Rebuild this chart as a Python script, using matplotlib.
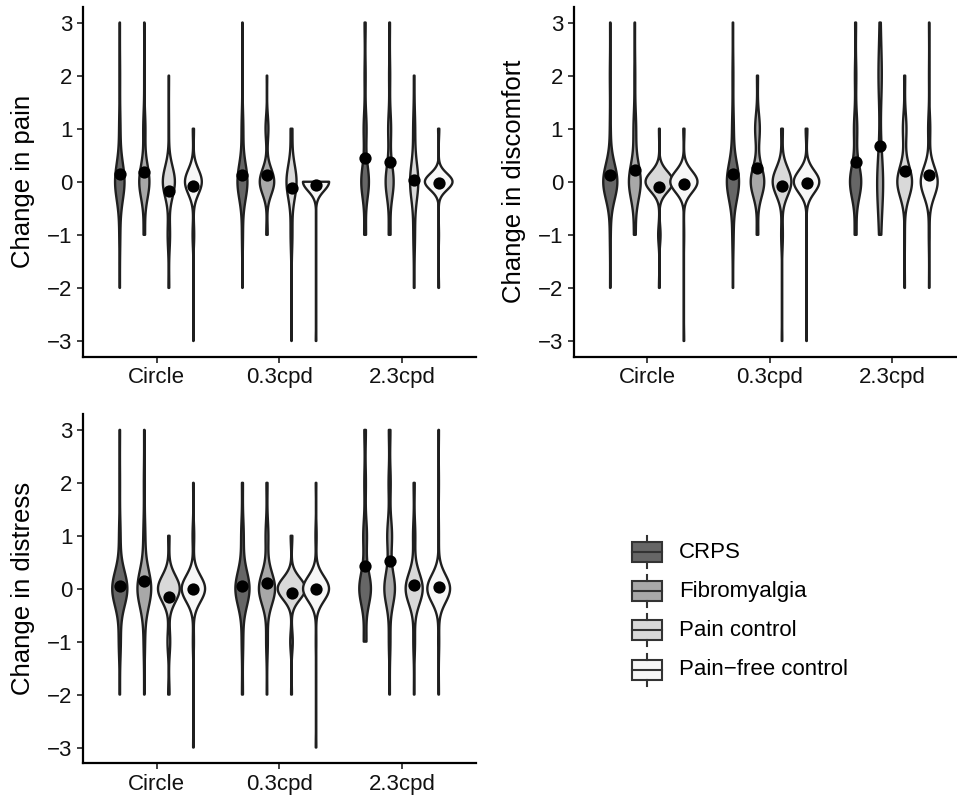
import numpy as np
import matplotlib
matplotlib.use("Agg")
import matplotlib.pyplot as plt
from matplotlib.patches import Polygon, Rectangle
from matplotlib.lines import Line2D

plt.rcParams['font.family'] = ['Liberation Sans', 'DejaVu Sans']

# ---------------- data (counts of participants at each rating change) ----------------
values = [-3, -2, -1, 0, 1, 2, 3]
conditions = ["Circle", "0.3cpd", "2.3cpd"]
groups = ["CRPS", "Fibromyalgia", "Pain control", "Pain\u2212free control"]
fills = ["#666666", "#A8A8A8", "#D9D9D9", "#F7F7F7"]

# Change in pain: rows = Circle, 0.3cpd, 2.3cpd
pain_crps = [[0, 1, 3, 29, 4, 2, 1], [0, 1, 3, 29, 5, 1, 1], [0, 0, 5, 21, 8, 3, 3]]
pain_fibro = [[0, 0, 4, 28, 6, 1, 1], [0, 0, 3, 30, 6, 1, 0], [0, 0, 5, 22, 8, 3, 2]]
pain_ctrl = [[0, 2, 6, 30, 1, 1, 0], [1, 1, 5, 28, 5, 0, 0], [0, 2, 5, 25, 6, 2, 0]]
pain_free = [[1, 0, 4, 42, 3, 0, 0], [1, 0, 0, 49, 0, 0, 0], [0, 1, 1, 46, 2, 0, 0]]

# Change in discomfort
disc_crps = [[0, 1, 2, 32, 2, 2, 1], [0, 1, 3, 29, 4, 2, 1], [0, 0, 4, 24, 7, 3, 2]]
disc_fibro = [[0, 0, 4, 27, 6, 2, 1], [0, 0, 3, 26, 9, 2, 0], [0, 0, 5, 20, 1, 11, 3]]
disc_ctrl = [[0, 1, 3, 35, 1, 0, 0], [1, 0, 3, 33, 3, 0, 0], [0, 1, 1, 29, 7, 2, 0]]
disc_free = [[1, 0, 1, 46, 2, 0, 0], [1, 0, 1, 45, 3, 0, 0], [0, 1, 2, 40, 5, 1, 1]]

# Change in distress
dist_crps = [[0, 1, 4, 30, 3, 1, 1], [0, 2, 3, 28, 5, 2, 0], [0, 0, 5, 22, 7, 3, 3]]
dist_fibro = [[0, 1, 3, 29, 4, 2, 1], [0, 1, 3, 29, 5, 2, 0], [0, 1, 3, 20, 9, 4, 3]]
dist_ctrl = [[0, 2, 4, 32, 2, 0, 0], [0, 1, 3, 33, 2, 0, 0], [0, 1, 3, 30, 4, 2, 0]]
dist_free = [[1, 0, 2, 43, 3, 1, 0], [1, 0, 1, 45, 2, 1, 0], [0, 1, 2, 44, 1, 1, 1]]

panels = [
    ("Change in pain", [pain_crps, pain_fibro, pain_ctrl, pain_free]),
    ("Change in discomfort", [disc_crps, disc_fibro, disc_ctrl, disc_free]),
    ("Change in distress", [dist_crps, dist_fibro, dist_ctrl, dist_free]),
]

# ---------------- helpers ----------------
vals = np.array(values, dtype=float)


def violin(counts):
    c = np.array(counts, dtype=float)
    x = np.repeat(vals, np.array(counts))
    n = len(x)
    sd = x.std(ddof=1)
    q75, q25 = np.percentile(x, [75, 25])
    lo = min(sd, (q75 - q25) / 1.34)
    if not lo > 0:
        lo = sd
    bw = 0.9 * lo * n ** -0.2
    y = np.linspace(x.min(), x.max(), 512)
    d = (c[None, :] * np.exp(-0.5 * ((y[:, None] - vals[None, :]) / bw) ** 2)).sum(1)
    d /= n * bw * np.sqrt(2 * np.pi)
    return y, d, x.mean()


W, H = 957, 797
fig = plt.figure(figsize=(W / 100, H / 100), dpi=100)


def rect(l, r, t, b):
    return [l / W, 1 - b / H, (r - l) / W, (b - t) / H]


axes = [
    fig.add_axes(rect(83, 475.5, 6.6, 356.9)),
    fig.add_axes(rect(573.5, 966, 6.6, 356.9)),
    fig.add_axes(rect(83, 475.5, 414, 763.4)),
]
title_x = [23, 514, 23]

edge = "#1f1f1f"
for ax, (title, data), tx in zip(axes, panels, title_x):
    shapes = []
    for g in range(4):
        for k in range(3):
            shapes.append((g, k, *violin(data[g][k])))
    maxd = max(s[3].max() for s in shapes)
    for g, k, y, d, m in shapes:
        c = (k + 1) + (g - 1.5) * 0.2
        half = d / maxd * 0.225 / 2
        xs = np.concatenate([c - half, (c + half)[::-1]])
        ys = np.concatenate([y, y[::-1]])
        ax.add_patch(Polygon(np.column_stack([xs, ys]), closed=True,
                             facecolor=fills[g], edgecolor=edge, lw=1.7,
                             joinstyle='round', zorder=2))
        ax.scatter([c], [m], s=78, color="black", zorder=5, linewidths=0)
    ax.set_xlim(0.4, 3.6)
    ax.set_ylim(-3.3, 3.3)
    ax.set_xticks([1, 2, 3])
    ax.set_xticklabels(conditions)
    ax.set_yticks(range(-3, 4))
    for s in ["top", "right"]:
        ax.spines[s].set_visible(False)
    for s in ["left", "bottom"]:
        ax.spines[s].set_linewidth(1.6)
        ax.spines[s].set_color("black")
    ax.tick_params(axis="both", direction="out", length=4.5, width=1.3,
                   color="#333333", labelsize=16, labelcolor="#111111", pad=3)
    bb = ax.get_position()
    fig.text(tx / W, bb.y0 + bb.height / 2, title, rotation=90, ha="center",
             va="center", fontsize=18.5, color="black")

# ---------------- legend (boxplot-style keys) ----------------
lax = fig.add_axes([0, 0, 1, 1])
lax.set_xlim(0, W)
lax.set_ylim(H, 0)
lax.axis("off")
for i, (lab, fc) in enumerate(zip(groups, fills)):
    cy = 552 + 39.2 * i
    lax.add_patch(Rectangle((631.5, cy - 10), 30, 20, facecolor=fc,
                            edgecolor="#333333", lw=1.5))
    lax.add_line(Line2D([631.5, 661.5], [cy, cy], color="#333333", lw=1.5))
    lax.add_line(Line2D([646.5, 646.5], [cy - 16, cy - 10], color="#333333", lw=1.5))
    lax.add_line(Line2D([646.5, 646.5], [cy + 10, cy + 16], color="#333333", lw=1.5))
    lax.text(679, cy, lab, va="center", ha="left", fontsize=16, color="black")

fig.savefig("out.png", dpi=100)
